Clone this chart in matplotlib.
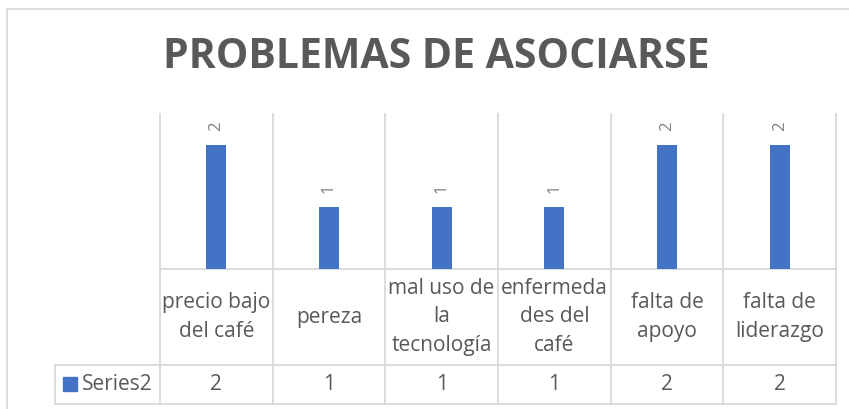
import matplotlib.pyplot as plt
from matplotlib import transforms
from matplotlib.patches import Rectangle

categories = ['precio bajo\ndel café', 'pereza', 'mal uso de\nla\ntecnología',
              'enfermeda\ndes del\ncafé', 'falta de\napoyo', 'falta de\nliderazgo']
values = [2, 1, 1, 1, 2, 2]
series_name = 'Series2'
title = 'PROBLEMAS DE ASOCIARSE'

blue = '#4472C4'
grid = '#d9d9d9'
txt = '#595959'

W, H = 849, 409
fig = plt.figure(figsize=(W / 100, H / 100), dpi=100)


def fx(px):
    return px / W


def fy(py):
    return 1 - py / H


# plot area in pixels: x 160..836, y 114..269
ax = fig.add_axes([fx(160), fy(269), fx(836) - fx(160), fy(114) - fy(269)])
x = list(range(len(categories)))
ax.bar(x, values, width=0.18, color=blue, zorder=3)
ax.set_xlim(-0.5, len(categories) - 0.5)
ax.set_ylim(0, 2.5)
ax.axis('off')

for i, v in enumerate(values):
    ax.annotate(str(v), (i, v), xytext=(0, 10), textcoords='offset points',
                rotation=90, ha='center', va='bottom', color='#7f7f7f',
                fontsize=12, family='Open Sans')

# data table under the axis
tr = transforms.blended_transform_factory(ax.transData, ax.transAxes)
px_per_unit = (836 - 160) / len(categories)
y_cat = -(365 - 269) / 155
y_bot = -(404 - 269) / 155
x_left = -0.5 - (160 - 55) / px_per_unit
x_right = len(categories) - 0.5
lkw = dict(color=grid, lw=1.3, transform=tr, clip_on=False)

for b in range(len(categories) + 1):
    ax.plot([b - 0.5, b - 0.5], [1, y_bot], **lkw)
ax.plot([-0.5, x_right], [0, 0], **lkw)
ax.plot([x_left, x_right], [y_cat, y_cat], **lkw)
ax.plot([x_left, x_right], [y_bot, y_bot], **lkw)
ax.plot([x_left, x_left], [y_cat, y_bot], **lkw)

fs = 15
for i, (c, v) in enumerate(zip(categories, values)):
    ax.text(i, y_cat / 2, c, transform=tr, ha='center', va='center',
            color=txt, fontsize=fs, family='Open Sans', linespacing=1.45)
    ax.text(i, (y_cat + y_bot) / 2, str(v), transform=tr, ha='center',
            va='center', color=txt, fontsize=fs, family='Open Sans')

sq_x = -0.5 - (160 - 63) / px_per_unit
ax.add_patch(Rectangle((sq_x, -(391 - 269) / 155), 14 / px_per_unit, 14 / 155,
                       transform=tr, color=blue, clip_on=False))
ax.text(-0.5 - (160 - 82) / px_per_unit, (y_cat + y_bot) / 2, series_name,
        transform=tr, ha='left', va='center', color=txt, fontsize=fs,
        family='Open Sans')

fig.text(fx(436), fy(57), title, ha='center', va='center', color=txt,
         fontsize=29.5, fontweight='bold', family='Open Sans')

# chart border
fig.patches.append(Rectangle((fx(7), fy(430)), fx(860) - fx(7), fy(9) - fy(430),
                             transform=fig.transFigure, fill=False,
                             edgecolor=grid, lw=1.3))

fig.savefig('out.png', dpi=100)
plt.close()
